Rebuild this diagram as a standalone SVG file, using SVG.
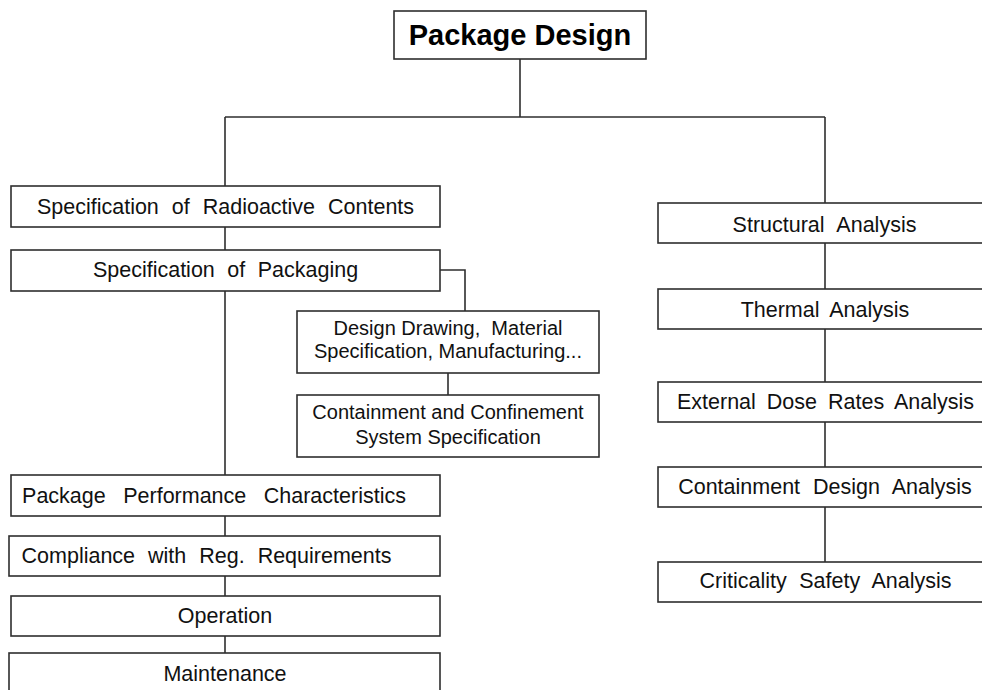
<svg xmlns="http://www.w3.org/2000/svg" width="982" height="690" viewBox="0 0 982 690">
<style>
.box{fill:#fff;stroke:#2e2e2e;stroke-width:1.6}
.t{font-family:"Liberation Sans",Arial,sans-serif;font-size:21.5px;fill:#111;text-anchor:middle}
.s{font-family:"Liberation Sans",Arial,sans-serif;font-size:20px;fill:#111;text-anchor:middle}
.b{font-family:"Liberation Sans",Arial,sans-serif;font-size:29px;font-weight:bold;fill:#000;text-anchor:middle}
.c{fill:none;stroke:#2e2e2e;stroke-width:1.6}
</style>
<rect width="982" height="690" fill="#fff"/>
<g id="connectors" class="c">
<path d="M520 59V117"/>
<path d="M225 117H825"/>
<path d="M225 117V186"/>
<path d="M825 117V203"/>
<path d="M225 227V250"/>
<path d="M440 270H465V311"/>
<path d="M448 373V395"/>
<path d="M225 291V475"/>
<path d="M225 516V536"/>
<path d="M225 576V596"/>
<path d="M225 636V653"/>
<path d="M825 243V289"/>
<path d="M825 329V382"/>
<path d="M825 422V467"/>
<path d="M825 507V562"/>
</g>
<g id="package-design"><rect class="box" x="394" y="11" width="252" height="48"/><text class="b" x="520" y="45">Package Design</text></g>
<g id="spec-radioactive"><rect class="box" x="11" y="186" width="429" height="41"/><text class="t" x="225.5" y="214" word-spacing="7">Specification of Radioactive Contents</text></g>
<g id="spec-packaging"><rect class="box" x="11" y="250" width="429" height="41"/><text class="t" x="225.5" y="277" word-spacing="6.5">Specification of Packaging</text></g>
<g id="design-drawing"><rect class="box" x="297" y="311" width="302" height="62"/><text class="s" x="448" y="335" xml:space="preserve">Design Drawing,  Material</text><text class="s" x="448" y="358">Specification, Manufacturing...</text></g>
<g id="containment-confinement"><rect class="box" x="297" y="395" width="302" height="62"/><text class="s" x="448" y="419">Containment and Confinement</text><text class="s" x="448" y="444">System Specification</text></g>
<g id="performance"><rect class="box" x="11" y="475" width="429" height="41"/><text class="t" x="214" y="503" word-spacing="11.5">Package Performance Characteristics</text></g>
<g id="compliance"><rect class="box" x="9" y="536" width="431" height="40"/><text class="t" x="206.5" y="563" word-spacing="7">Compliance with Reg. Requirements</text></g>
<g id="operation"><rect class="box" x="11" y="596" width="429" height="40"/><text class="t" x="225" y="623">Operation</text></g>
<g id="maintenance"><rect class="box" x="9" y="653" width="431" height="50"/><text class="t" x="225" y="681">Maintenance</text></g>
<g id="structural"><rect class="box" x="658" y="203" width="340" height="40"/><text class="t" x="824.5" y="232" word-spacing="7">Structural Analysis</text></g>
<g id="thermal"><rect class="box" x="658" y="289" width="340" height="40"/><text class="t" x="825" y="317" word-spacing="5">Thermal Analysis</text></g>
<g id="external-dose"><rect class="box" x="658" y="382" width="340" height="40"/><text class="t" x="825.5" y="409" word-spacing="5">External Dose Rates Analysis</text></g>
<g id="containment-design"><rect class="box" x="658" y="467" width="340" height="40"/><text class="t" x="825" y="494" word-spacing="7">Containment Design Analysis</text></g>
<g id="criticality"><rect class="box" x="658" y="562" width="340" height="40"/><text class="t" x="825.5" y="588" word-spacing="6.5">Criticality Safety Analysis</text></g>
</svg>
